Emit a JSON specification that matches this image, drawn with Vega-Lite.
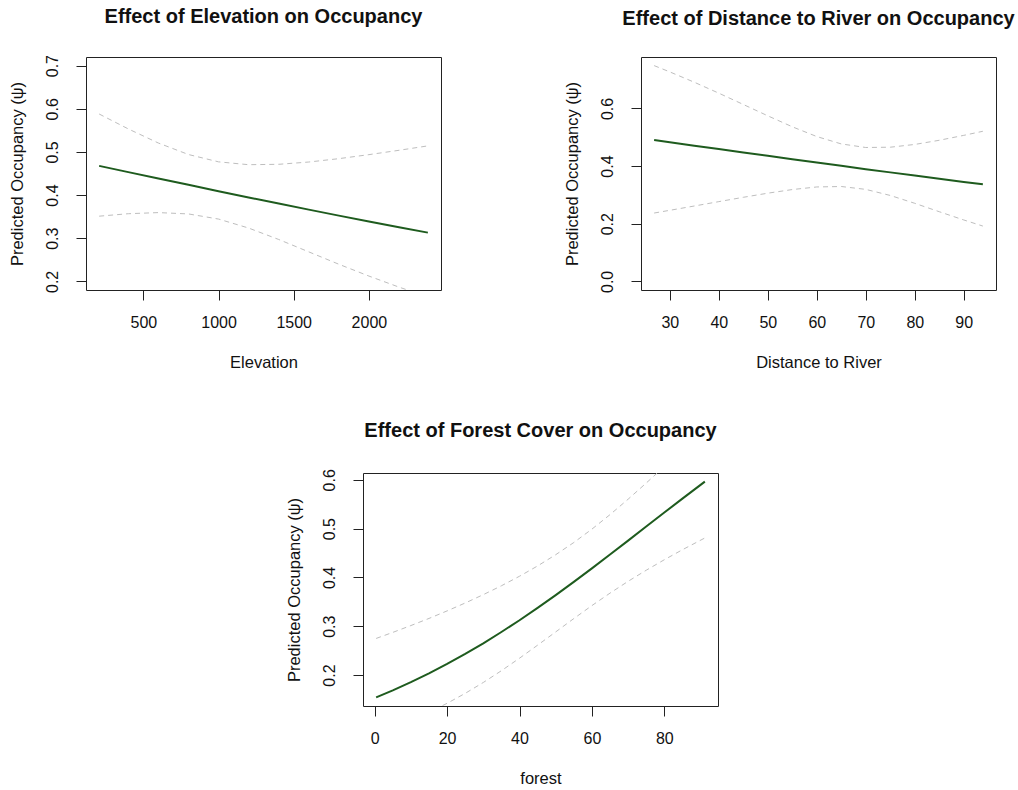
{
  "$schema": "https://vega.github.io/schema/vega-lite/v6.json",
  "background": "white",
  "padding": {"left": 8, "top": 6, "right": 0, "bottom": 0},
  "config": {
    "view": {"stroke": "#222", "strokeWidth": 1},
    "font": "Liberation Sans",
    "title": {"font": "Liberation Sans", "fontSize": 20, "fontWeight": "bold", "color": "#111", "baseline": "alphabetic", "offset": 28, "anchor": "middle"},
    "axis": {
      "domain": false, "grid": false,
      "tickColor": "#222", "tickSize": 10, "tickWidth": 1,
      "labelFont": "Liberation Sans", "labelFontSize": 16, "labelColor": "#111",
      "titleFont": "Liberation Sans", "titleFontSize": 16.5, "titleFontWeight": "normal", "titleColor": "#111"
    },
    "axisY": {
      "labelAngle": 270, "labelAlign": "center", "labelBaseline": "alphabetic", "labelPadding": 19,
      "titleAngle": 270, "titleAlign": "center", "titleBaseline": "alphabetic", "titleX": -64, "titleY": 116.5
    },
    "axisX": {
      "labelAngle": 0, "labelAlign": "center", "labelBaseline": "alphabetic", "labelPadding": 27,
      "titleAlign": "center", "titleBaseline": "alphabetic", "titleX": 177.5, "titleY": 77
    }
  },
  "datasets": {
    "elev": [
      {"x": 206, "fit": 0.4677, "lo": 0.3511, "hi": 0.5879},
      {"x": 400, "fit": 0.4532, "lo": 0.3568, "hi": 0.5533},
      {"x": 600, "fit": 0.4384, "lo": 0.3594, "hi": 0.5206},
      {"x": 800, "fit": 0.4237, "lo": 0.3563, "hi": 0.4940},
      {"x": 1000, "fit": 0.4090, "lo": 0.3444, "hi": 0.4770},
      {"x": 1200, "fit": 0.3946, "lo": 0.3236, "hi": 0.4704},
      {"x": 1400, "fit": 0.3803, "lo": 0.2971, "hi": 0.4713},
      {"x": 1600, "fit": 0.3663, "lo": 0.2684, "hi": 0.4766},
      {"x": 1800, "fit": 0.3524, "lo": 0.2397, "hi": 0.4844},
      {"x": 2000, "fit": 0.3389, "lo": 0.2123, "hi": 0.4937},
      {"x": 2200, "fit": 0.3255, "lo": 0.1867, "hi": 0.5038},
      {"x": 2392, "fit": 0.3130, "lo": 0.1641, "hi": 0.5140}
    ],
    "river": [
      {"x": 26.8, "fit": 0.4903, "lo": 0.2371, "hi": 0.7486},
      {"x": 30, "fit": 0.4827, "lo": 0.2466, "hi": 0.7268},
      {"x": 35, "fit": 0.4708, "lo": 0.2615, "hi": 0.6909},
      {"x": 40, "fit": 0.4590, "lo": 0.2767, "hi": 0.6530},
      {"x": 45, "fit": 0.4472, "lo": 0.2917, "hi": 0.6138},
      {"x": 50, "fit": 0.4355, "lo": 0.3060, "hi": 0.5744},
      {"x": 55, "fit": 0.4238, "lo": 0.3186, "hi": 0.5364},
      {"x": 60, "fit": 0.4123, "lo": 0.3276, "hi": 0.5025},
      {"x": 65, "fit": 0.4008, "lo": 0.3292, "hi": 0.4769},
      {"x": 70, "fit": 0.3894, "lo": 0.3192, "hi": 0.4645},
      {"x": 75, "fit": 0.3782, "lo": 0.2981, "hi": 0.4655},
      {"x": 80, "fit": 0.3671, "lo": 0.2709, "hi": 0.4751},
      {"x": 85, "fit": 0.3561, "lo": 0.2417, "hi": 0.4896},
      {"x": 90, "fit": 0.3452, "lo": 0.2131, "hi": 0.5066},
      {"x": 93.9, "fit": 0.3369, "lo": 0.1919, "hi": 0.5208}
    ],
    "forest": [
      {"x": 0.4, "fit": 0.1543, "lo": 0.0807, "hi": 0.2750},
      {"x": 5, "fit": 0.1687, "lo": 0.0926, "hi": 0.2874},
      {"x": 10, "fit": 0.1854, "lo": 0.1073, "hi": 0.3014},
      {"x": 15, "fit": 0.2035, "lo": 0.1237, "hi": 0.3160},
      {"x": 20, "fit": 0.2227, "lo": 0.1421, "hi": 0.3314},
      {"x": 25, "fit": 0.2433, "lo": 0.1625, "hi": 0.3476},
      {"x": 30, "fit": 0.2651, "lo": 0.1848, "hi": 0.3647},
      {"x": 35, "fit": 0.2882, "lo": 0.2089, "hi": 0.3829},
      {"x": 40, "fit": 0.3123, "lo": 0.2345, "hi": 0.4024},
      {"x": 45, "fit": 0.3376, "lo": 0.2612, "hi": 0.4235},
      {"x": 50, "fit": 0.3638, "lo": 0.2884, "hi": 0.4465},
      {"x": 55, "fit": 0.3908, "lo": 0.3157, "hi": 0.4715},
      {"x": 60, "fit": 0.4186, "lo": 0.3423, "hi": 0.4989},
      {"x": 65, "fit": 0.4468, "lo": 0.3678, "hi": 0.5286},
      {"x": 70, "fit": 0.4754, "lo": 0.3920, "hi": 0.5602},
      {"x": 75, "fit": 0.5042, "lo": 0.4147, "hi": 0.5933},
      {"x": 80, "fit": 0.5329, "lo": 0.4362, "hi": 0.6271},
      {"x": 85, "fit": 0.5614, "lo": 0.4567, "hi": 0.6609},
      {"x": 91.2, "fit": 0.5962, "lo": 0.4808, "hi": 0.7019}
    ]
  },
  "spacing": 49,
  "vconcat": [
    {
      "spacing": 121,
      "hconcat": [
        {
          "width": 355, "height": 233,
          "title": "Effect of Elevation on Occupancy",
          "data": {"name": "elev"},
          "encoding": {
            "x": {"field": "x", "type": "quantitative", "scale": {"domain": [118.6, 2479.4], "nice": false, "zero": false}, "axis": {"title": "Elevation", "values": [500, 1000, 1500, 2000], "format": "d"}}
          },
          "layer": [
            {"mark": {"type": "line", "clip": true, "color": "#bebebe", "strokeWidth": 1, "strokeDash": [5, 4]},
             "encoding": {"y": {"field": "hi", "type": "quantitative", "scale": {"domain": [0.18, 0.72], "nice": false, "zero": false}, "axis": {"title": "Predicted Occupancy (ψ)", "values": [0.2, 0.3, 0.4, 0.5, 0.6, 0.7], "format": ".1f"}}}},
            {"mark": {"type": "line", "clip": true, "color": "#bebebe", "strokeWidth": 1, "strokeDash": [5, 4]},
             "encoding": {"y": {"field": "lo", "type": "quantitative", "scale": {"domain": [0.18, 0.72], "nice": false, "zero": false}, "axis": {"title": "Predicted Occupancy (ψ)", "values": [0.2, 0.3, 0.4, 0.5, 0.6, 0.7], "format": ".1f"}}}},
            {"mark": {"type": "line", "clip": true, "color": "#1e5b1e", "strokeWidth": 2},
             "encoding": {"y": {"field": "fit", "type": "quantitative", "scale": {"domain": [0.18, 0.72], "nice": false, "zero": false}, "axis": {"title": "Predicted Occupancy (ψ)", "values": [0.2, 0.3, 0.4, 0.5, 0.6, 0.7], "format": ".1f"}}}}
          ]
        },
        {
          "width": 355, "height": 233,
          "title": "Effect of Distance to River on Occupancy",
          "data": {"name": "river"},
          "encoding": {
            "x": {"field": "x", "type": "quantitative", "scale": {"domain": [24.12, 96.58], "nice": false, "zero": false}, "axis": {"title": "Distance to River", "values": [30, 40, 50, 60, 70, 80, 90], "format": "d"}}
          },
          "layer": [
            {"mark": {"type": "line", "clip": true, "color": "#bebebe", "strokeWidth": 1, "strokeDash": [5, 4]},
             "encoding": {"y": {"field": "hi", "type": "quantitative", "scale": {"domain": [-0.0299, 0.7785], "nice": false, "zero": false}, "axis": {"title": "Predicted Occupancy (ψ)", "values": [0, 0.2, 0.4, 0.6], "format": ".1f"}}}},
            {"mark": {"type": "line", "clip": true, "color": "#bebebe", "strokeWidth": 1, "strokeDash": [5, 4]},
             "encoding": {"y": {"field": "lo", "type": "quantitative", "scale": {"domain": [-0.0299, 0.7785], "nice": false, "zero": false}, "axis": {"title": "Predicted Occupancy (ψ)", "values": [0, 0.2, 0.4, 0.6], "format": ".1f"}}}},
            {"mark": {"type": "line", "clip": true, "color": "#1e5b1e", "strokeWidth": 2},
             "encoding": {"y": {"field": "fit", "type": "quantitative", "scale": {"domain": [-0.0299, 0.7785], "nice": false, "zero": false}, "axis": {"title": "Predicted Occupancy (ψ)", "values": [0, 0.2, 0.4, 0.6], "format": ".1f"}}}}
          ]
        }
      ]
    },
    {
      "spacing": 20,
      "hconcat": [
        {
          "width": 179, "height": 10,
          "data": {"values": [{}]},
          "mark": {"type": "text", "text": ""},
          "encoding": {},
          "view": {"stroke": null}
        },
        {
          "width": 355, "height": 233,
          "title": "Effect of Forest Cover on Occupancy",
          "data": {"name": "forest"},
          "encoding": {
            "x": {"field": "x", "type": "quantitative", "scale": {"domain": [-3.232, 94.832], "nice": false, "zero": false}, "axis": {"title": "forest", "values": [0, 20, 40, 60, 80], "format": "d"}}
          },
          "layer": [
            {"mark": {"type": "line", "clip": true, "color": "#bebebe", "strokeWidth": 1, "strokeDash": [5, 4]},
             "encoding": {"y": {"field": "hi", "type": "quantitative", "scale": {"domain": [0.1366, 0.6139], "nice": false, "zero": false}, "axis": {"title": "Predicted Occupancy (ψ)", "values": [0.2, 0.3, 0.4, 0.5, 0.6], "format": ".1f"}}}},
            {"mark": {"type": "line", "clip": true, "color": "#bebebe", "strokeWidth": 1, "strokeDash": [5, 4]},
             "encoding": {"y": {"field": "lo", "type": "quantitative", "scale": {"domain": [0.1366, 0.6139], "nice": false, "zero": false}, "axis": {"title": "Predicted Occupancy (ψ)", "values": [0.2, 0.3, 0.4, 0.5, 0.6], "format": ".1f"}}}},
            {"mark": {"type": "line", "clip": true, "color": "#1e5b1e", "strokeWidth": 2},
             "encoding": {"y": {"field": "fit", "type": "quantitative", "scale": {"domain": [0.1366, 0.6139], "nice": false, "zero": false}, "axis": {"title": "Predicted Occupancy (ψ)", "values": [0.2, 0.3, 0.4, 0.5, 0.6], "format": ".1f"}}}}
          ]
        }
      ]
    }
  ]
}
